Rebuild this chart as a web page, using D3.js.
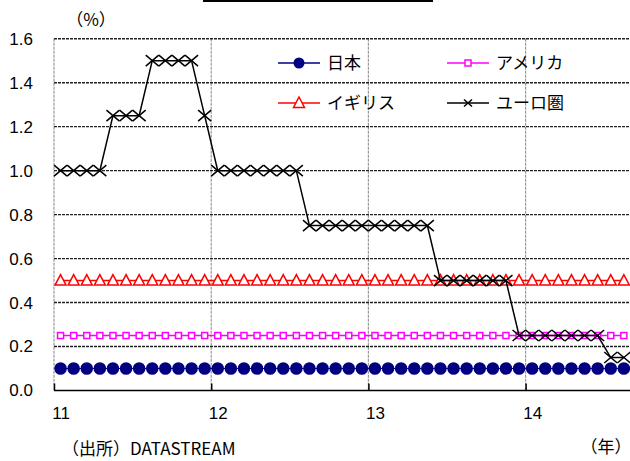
<!DOCTYPE html>
<html lang="ja">
<head>
  <meta charset="UTF-8">
  <title>政策金利</title>
  <script src="https://d3js.org/d3.v7.min.js"></script>
  <style>
    body { margin: 0; background: #fff; }
    svg { display: block; font-family: "Noto Sans CJK JP", "Liberation Sans", sans-serif; }
    .tick text { font-size: 17px; fill: #000; }
  </style>
</head>
<body>
  <svg width="630" height="461"></svg>

  <script>
    // 2011年1月〜2014年8月（月次）
    const yearLabels = ["11", "12", "13", "14"];
    const yTicks = [0, 0.2, 0.4, 0.6, 0.8, 1.0, 1.2, 1.4, 1.6];

    const japan = [0.1,0.1,0.1,0.1,0.1,0.1,0.1,0.1,0.1,0.1,0.1,0.1,
                   0.1,0.1,0.1,0.1,0.1,0.1,0.1,0.1,0.1,0.1,0.1,0.1,
                   0.1,0.1,0.1,0.1,0.1,0.1,0.1,0.1,0.1,0.1,0.1,0.1,
                   0.1,0.1,0.1,0.1,0.1,0.1,0.1,0.1];
    const usa = [0.25,0.25,0.25,0.25,0.25,0.25,0.25,0.25,0.25,0.25,0.25,0.25,
                 0.25,0.25,0.25,0.25,0.25,0.25,0.25,0.25,0.25,0.25,0.25,0.25,
                 0.25,0.25,0.25,0.25,0.25,0.25,0.25,0.25,0.25,0.25,0.25,0.25,
                 0.25,0.25,0.25,0.25,0.25,0.25,0.25,0.25];
    const uk = [0.5,0.5,0.5,0.5,0.5,0.5,0.5,0.5,0.5,0.5,0.5,0.5,
                0.5,0.5,0.5,0.5,0.5,0.5,0.5,0.5,0.5,0.5,0.5,0.5,
                0.5,0.5,0.5,0.5,0.5,0.5,0.5,0.5,0.5,0.5,0.5,0.5,
                0.5,0.5,0.5,0.5,0.5,0.5,0.5,0.5];
    const euro = [1,1,1,1,1.25,1.25,1.25,1.5,1.5,1.5,1.5,1.25,
                  1,1,1,1,1,1,1,0.75,0.75,0.75,0.75,0.75,
                  0.75,0.75,0.75,0.75,0.75,0.5,0.5,0.5,0.5,0.5,0.5,0.25,
                  0.25,0.25,0.25,0.25,0.25,0.25,0.15,0.15];

    const svg = d3.select("svg");
    const plotLeft = 54, plotRight = 630.4, plotTop = 38.7, plotBottom = 390.5;
    const nMonths = euro.length;

    const x = d3.scaleLinear().domain([0, nMonths]).range([plotLeft, plotRight]);
    const y = d3.scaleLinear().domain([0, 1.6]).range([plotBottom, plotTop]);
    const mx = i => x(i + 0.5);

    // タイトル枠の下辺（切れている）
    svg.append("line")
      .attr("x1", 203).attr("x2", 433).attr("y1", 1).attr("y2", 1)
      .attr("stroke", "#000").attr("stroke-width", 2);

    // 縦グリッド
    svg.append("g").selectAll("line")
      .data([0, 12, 24, 36])
      .join("line")
        .attr("x1", d => x(d)).attr("x2", d => x(d))
        .attr("y1", plotTop).attr("y2", plotBottom)
        .attr("stroke", "#999").attr("stroke-width", 1.2)
        .attr("stroke-dasharray", "3,1");

    // 横グリッド
    svg.append("g").selectAll("line")
      .data(yTicks.filter(d => d > 0))
      .join("line")
        .attr("x1", plotLeft).attr("x2", 630)
        .attr("y1", d => y(d)).attr("y2", d => y(d))
        .attr("stroke", "#222").attr("stroke-width", 1.4)
        .attr("stroke-dasharray", "3,1");

    // 下軸
    const xAxis = svg.append("g")
      .attr("transform", `translate(0,${plotBottom})`)
      .call(d3.axisBottom(x).tickValues([0, 12, 24, 36]).tickSize(-7).tickFormat(""));
    xAxis.select(".domain").attr("d", `M${plotLeft},0H630`).attr("stroke-width", 1.5);
    xAxis.selectAll(".tick line").attr("stroke-width", 1.5);

    svg.append("g")
      .attr("transform", `translate(0,${plotBottom})`)
      .call(d3.axisBottom(x).tickValues([0.5, 12.5, 24.5, 36.5]).tickSize(0).tickPadding(16)
        .tickFormat((d, i) => yearLabels[i]))
      .call(g => g.select(".domain").remove());

    // 左軸ラベル
    svg.append("g")
      .attr("transform", `translate(${plotLeft},0)`)
      .call(d3.axisLeft(y).tickValues(yTicks).tickSize(0).tickPadding(21).tickFormat(d3.format(".1f")))
      .call(g => g.select(".domain").remove());

    const line = d3.line().x((d, i) => mx(i)).y(d => y(d));

    function drawSeries(data, color, width, marker) {
      svg.append("path").datum(data)
        .attr("d", line).attr("fill", "none")
        .attr("stroke", color).attr("stroke-width", width);
      const g = svg.append("g");
      data.forEach((d, i) => marker(g, mx(i), y(d)));
    }

    const circle = (g, cx, cy, r = 6.3) => g.append("circle")
      .attr("cx", cx).attr("cy", cy).attr("r", r).attr("fill", "#000080");
    const square = (g, cx, cy) => g.append("rect")
      .attr("x", cx - 3).attr("y", cy - 3).attr("width", 6).attr("height", 6)
      .attr("fill", "#fff").attr("stroke", "#ff00ff").attr("stroke-width", 1.5);
    const triangle = (g, cx, cy) => g.append("path")
      .attr("d", `M${cx},${cy - 6}L${cx + 5.5},${cy + 4.5}L${cx - 5.5},${cy + 4.5}Z`)
      .attr("fill", "#fff").attr("stroke", "#ff0000").attr("stroke-width", 1.5);
    const cross = (g, cx, cy, w = 6.5, h = 5.5) => g.append("path")
      .attr("d", `M${cx - w},${cy - h}L${cx + w},${cy + h}M${cx - w},${cy + h}L${cx + w},${cy - h}`)
      .attr("fill", "none").attr("stroke", "#000").attr("stroke-width", 1.5);

    drawSeries(japan, "#000080", 1, circle);
    drawSeries(usa, "#ff00ff", 1.5, square);
    drawSeries(uk, "#ff0000", 1.5, triangle);
    drawSeries(euro, "#000", 1.5, cross);

    // 凡例
    const legend = [
      {name: "日本", color: "#000080", mk: (g, a, b) => circle(g, a, b, 5.5), lx: 278, ly: 63},
      {name: "アメリカ", color: "#ff00ff", mk: square, lx: 447, ly: 63},
      {name: "イギリス", color: "#ff0000", mk: triangle, lx: 278, ly: 103},
      {name: "ユーロ圏", color: "#000", mk: (g, a, b) => cross(g, a, b, 4, 3.5), lx: 447, ly: 103}
    ];
    const lg = svg.append("g");
    legend.forEach(d => {
      lg.append("line").attr("x1", d.lx).attr("x2", d.lx + 42)
        .attr("y1", d.ly).attr("y2", d.ly)
        .attr("stroke", d.color).attr("stroke-width", 1.5);
      d.mk(lg, d.lx + 21, d.ly);
      lg.append("text").attr("x", d.lx + 49).attr("y", d.ly)
        .attr("dy", "0.36em").attr("font-size", 17).text(d.name);
    });

    // 注記
    svg.append("text").attr("x", 91).attr("y", 20).attr("dy", "0.36em")
      .attr("text-anchor", "middle").attr("font-size", 17).text("（%）");
    svg.append("text").attr("x", 606).attr("y", 447).attr("dy", "0.36em")
      .attr("text-anchor", "middle").attr("font-size", 17).text("（年）");
    svg.append("text").attr("x", 62).attr("y", 449).attr("dy", "0.36em")
      .attr("font-size", 17).text("（出所）DATASTREAM");
  </script>
</body>
</html>
